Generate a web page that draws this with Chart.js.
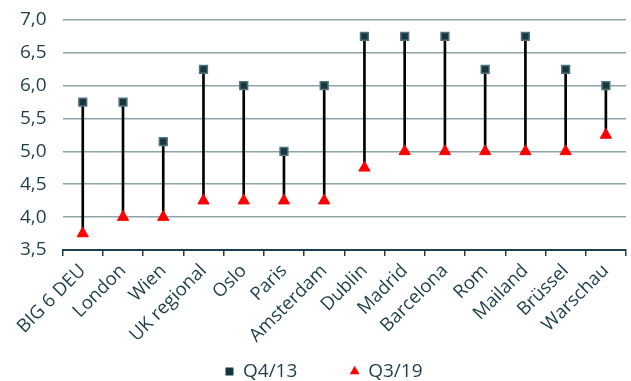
<!DOCTYPE html>
<html><head><meta charset="utf-8">
<script src="https://cdn.jsdelivr.net/npm/chart.js@4"></script>
<style>html,body{margin:0;padding:0;background:#fff}#wrap{width:631px;height:381px}</style>
</head><body><div id="wrap"><canvas id="c"></canvas></div>
<script>
const categories = ["BIG 6 DEU","London","Wien","UK regional","Oslo","Paris","Amsterdam","Dublin","Madrid","Barcelona","Rom","Mailand","Brüssel","Warschau"];
const q413 = [5.75,5.75,5.15,6.25,6.0,5.0,6.0,6.75,6.75,6.75,6.25,6.75,6.25,6.0];
const q319 = [3.75,4.0,4.0,4.25,4.25,4.25,4.25,4.75,5.0,5.0,5.0,5.0,5.0,5.25];
const yTicks = [3.5,4.0,4.5,5.0,5.5,6.0,6.5,7.0];

const txt = '#1d3f4b';
const ranges = q413.map((v,i)=>[q319[i], v]);
Chart.defaults.font.family = "'Open Sans', sans-serif";
Chart.defaults.color = txt;
const shiftLegend = {id:'shiftLegend', afterLayout(chart){ const lg = chart.legend; if(lg){ lg.top += 10; lg.bottom += 10; lg.left += 18; } }};
new Chart(document.getElementById('c'), {
  type: 'bar',
  data: {
    labels: categories,
    datasets: [
      {label:'range', data: ranges, backgroundColor:'#000', borderWidth:0, barThickness:2, order:3},
      {type:'line', label:'Q4/13', data:q413, showLine:false, pointStyle:'rect', pointRadius:5.5, pointBackgroundColor:'#163640', pointBorderColor:'#52737c', pointBorderWidth:1.5, backgroundColor:'#163640', borderColor:'#52737c', order:1},
      {type:'line', label:'Q3/19', data:q319, showLine:false, pointStyle:'triangle', pointRadius:6.5, pointBackgroundColor:'#ff0000', pointBorderColor:'#ff0000', pointBorderWidth:1, backgroundColor:'#ff0000', borderColor:'#ff0000', order:2}
    ]
  },
  options: {
    responsive:true, maintainAspectRatio:false, animation:false,
    layout:{autoPadding:false, padding:{left:4,right:5,top:20,bottom:0}},
    plugins:{
      tooltip:{enabled:false},
      legend:{position:'bottom',
        labels:{usePointStyle:true, boxWidth:8, boxHeight:8, padding:4, font:{size:19}, color:txt,
          generateLabels:(chart)=>{
            const l = Chart.defaults.plugins.legend.labels.generateLabels(chart).filter(x=>x.text!=='range');
            l.forEach(x=>{ if(x.text==='Q3/19'){x.pointStyle='triangle';} if(x.text==='Q4/13'){x.pointStyle='rect'; x.text = x.text + '\u00a0'.repeat(10);} x.lineWidth=0; });
            return l;
          }}
      }
    },
    scales:{
      x:{grid:{drawOnChartArea:false, drawTicks:true, tickLength:6, color:txt, lineWidth:1.5, offset:true},
         border:{color:txt, width:2},
         afterFit:(s)=>{s.paddingLeft = 0; s.paddingRight = 0; s.height -= 3;},
         ticks:{maxRotation:45, minRotation:45, font:{size:18.5}, color:txt, padding:4}},
      y:{min:3.5, max:7.0, afterBuildTicks:(s)=>{s.ticks = yTicks.map(v=>({value:v}));},
         afterFit:(s)=>{s.paddingTop = 0;},
         grid:{color:'#8fa4a9', lineWidth:1.5, drawTicks:false},
         border:{display:false},
         ticks:{font:{size:19}, color:txt, padding:16, callback:(v)=>v.toFixed(1).replace('.',',')}}
    }
  },
  plugins:[shiftLegend]
});
</script></body></html>
